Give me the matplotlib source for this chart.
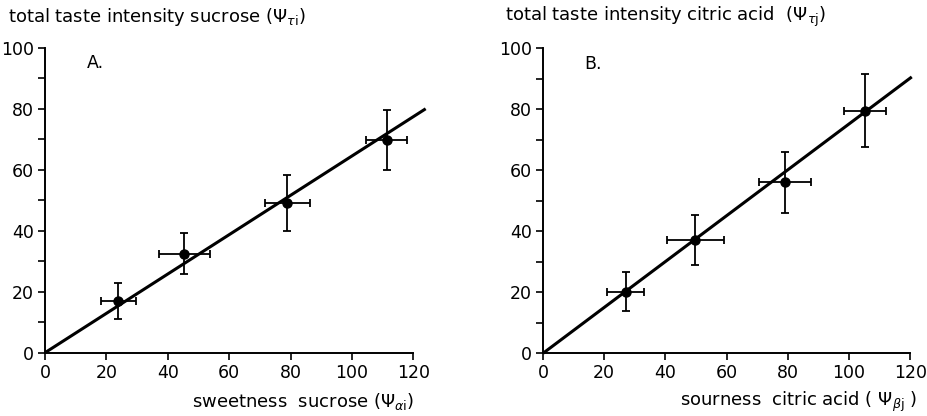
import matplotlib
matplotlib.use("Agg")
import matplotlib.pyplot as plt
import numpy as np

plt.rcParams['font.family'] = ['DejaVu Sans']

# Panel A: sucrose
sweet_x = [23.9, 45.4, 78.9, 111.3]
sweet_xerr = [5.6, 8.4, 7.3, 6.6]
sweet_y = [17.0, 32.4, 49.2, 69.7]
sweet_yerr = [5.9, 6.7, 9.2, 9.8]
sweet_slope = 0.645

# Panel B: citric acid
sour_x = [27.0, 49.8, 79.1, 105.2]
sour_xerr = [6.0, 9.3, 8.5, 6.8]
sour_y = [20.2, 37.3, 56.1, 79.6]
sour_yerr = [6.4, 8.2, 10.0, 12.0]
sour_slope = 0.752

x_ticks = [0, 20, 40, 60, 80, 100, 120]
y_ticks = [0, 20, 40, 60, 80, 100]

W, H = 927, 416
fig = plt.figure(figsize=(W / 100, H / 100), dpi=100)

panels = [
    dict(rect=[45 / W, 63.3 / H, 386.8 / W, 305 / H],
         x=sweet_x, xerr=sweet_xerr, y=sweet_y, yerr=sweet_yerr,
         slope=sweet_slope, line_end=124.0, tag="A.",
         ylabel=r"total taste intensity sucrose ($\Psi_{\tau\mathrm{i}}$)",
         ylabel_x=8 / W,
         xlabel=r"sweetness  sucrose ($\Psi_{\alpha\mathrm{i}}$)",
         xlabel_x=414 / W),
    dict(rect=[543 / W, 62.7 / H, 385.6 / W, 305 / H],
         x=sour_x, xerr=sour_xerr, y=sour_y, yerr=sour_yerr,
         slope=sour_slope, line_end=120.5, tag="B.",
         ylabel=r"total taste intensity citric acid  ($\Psi_{\tau\mathrm{j}}$)",
         ylabel_x=505 / W,
         xlabel=r"sourness  citric acid ( $\Psi_{\beta\mathrm{j}}$ )",
         xlabel_x=917 / W),
]

for p in panels:
    ax = fig.add_axes(p["rect"])
    ax.set_xlim(0, 126)
    ax.set_ylim(0, 100)
    for s in ("top", "right"):
        ax.spines[s].set_visible(False)
    ax.spines["bottom"].set_bounds(0, 120)
    ax.spines["left"].set_bounds(0, 100)
    for s in ("bottom", "left"):
        ax.spines[s].set_linewidth(1.4)
    ax.set_xticks(x_ticks)
    ax.set_yticks(y_ticks)
    ax.set_yticks(np.arange(10, 100, 20), minor=True)
    ax.tick_params(axis="both", which="both", direction="out", width=1.2,
                   labelsize=12.5, colors="black")
    ax.tick_params(axis="both", which="major", length=5, pad=3)
    ax.tick_params(axis="y", which="minor", length=5)

    xs = np.array([0.0, p["line_end"]])
    ax.plot(xs, p["slope"] * xs, color="black", lw=2.2, clip_on=False,
            solid_capstyle="butt")
    ax.errorbar(p["x"], p["y"], xerr=p["xerr"], yerr=p["yerr"],
                fmt="o", color="black", ms=6.5, elinewidth=1.3,
                capsize=3, capthick=1.3, clip_on=False)
    ax.text(13.5, 95, p["tag"], fontsize=12.5, ha="left", va="center")

    fig.text(p["ylabel_x"], 1 - 17 / H, p["ylabel"], fontsize=13,
             ha="left", va="center")
    fig.text(p["xlabel_x"], 1 - 402 / H, p["xlabel"], fontsize=13,
             ha="right", va="center")

fig.savefig("out.png", dpi=100, facecolor="white")
